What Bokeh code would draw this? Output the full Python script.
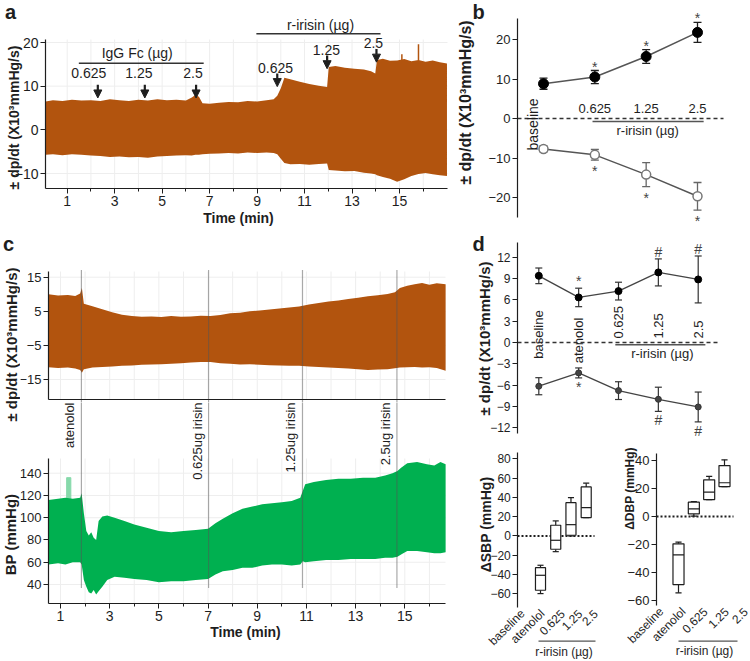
import math
from bokeh.plotting import figure
from bokeh.models import Range1d, FixedTicker, ColumnDataSource, Arrow, NormalHead
from bokeh.layouts import row, column
from bokeh.embed import file_html
from bokeh.resources import INLINE
from bokeh.core.properties import value

FONT = "Liberation Sans"
BROWN = "#B2540E"
GREEN = "#00B050"
PALE_GREEN = "#86D9AA"
INK = "#1e1e1e"
GRAY = "#555555"
GRIDC = "#eeeeee"

# ---------------- data: panel a (envelope of +/- dp/dt, x10^3 mmHg/s) ----------------
a_time = [0.09, 0.4, 0.8, 1.2, 1.6, 2.0, 2.4, 2.8, 3.2, 3.6, 4.0, 4.4, 4.8, 5.2, 5.6, 6.0, 6.25, 6.4, 6.55, 6.7,
          7.0, 7.4, 7.8, 8.2, 8.6, 9.0, 9.4, 9.7, 9.85, 10.0, 10.15, 10.4, 10.8, 11.2, 11.6, 11.95, 12.02, 12.3,
          12.7, 13.1, 13.5, 13.8, 13.98, 14.05, 14.3, 14.6, 14.9, 15.2, 15.5, 15.8, 16.1, 16.4, 16.7, 17.0]
a_upper = [6.5, 6.8, 6.6, 6.9, 6.7, 6.8, 6.6, 7.0, 6.8, 6.6, 6.9, 6.7, 7.0, 6.8, 6.9, 6.7, 7.4, 8.0, 7.6, 6.1,
           6.0, 6.2, 6.4, 6.3, 6.6, 6.5, 6.8, 7.0, 7.8, 9.5, 11.9, 11.6, 11.0, 10.5, 10.1, 9.8, 14.4, 14.6,
           14.2, 14.0, 13.8, 13.4, 12.9, 16.0, 16.3, 15.8, 15.9, 16.2, 15.7, 16.0, 15.6, 15.9, 15.5, 15.2]
a_lower = [-5.7, -5.6, -5.8, -5.6, -5.7, -5.9, -6.0, -6.2, -6.1, -6.3, -6.2, -6.4, -6.1, -6.0, -5.9, -5.8, -5.9,
           -5.7, -5.7, -5.6, -5.5, -5.4, -5.3, -5.4, -5.2, -5.3, -5.2, -5.3, -5.6, -6.6, -7.6, -7.9, -7.8, -8.0,
           -7.8, -7.7, -9.2, -9.3, -9.5, -9.4, -9.8, -10.0, -10.2, -10.4, -10.8, -11.2, -11.9, -11.3, -10.6,
           -10.1, -9.9, -10.2, -10.4, -10.6]
a_spike_time = [15.1, 15.8]
a_spike_base = [15.9, 15.9]
a_spike_top = [17.3, 19.6]
a_dose_labels = ["0.625", "1.25", "2.5"]
a_igg_time = [2.29, 4.27, 6.43]
a_igg_tip = [7.3, 7.3, 7.3]
a_igg_label_x = [1.91, 4.02, 6.30]
a_igg_label_y = [13.1, 13.1, 13.1]
a_irisin_time = [9.85, 11.95, 14.03]
a_irisin_tip = [9.9, 14.0, 15.5]
a_irisin_label_x = [9.78, 11.92, 13.90]
a_irisin_label_y = [14.15, 18.2, 19.8]
a_yticks = [-10, 0, 10, 20]
a_ticks = [1, 3, 5, 7, 9, 11, 13, 15]
a_minor = [2, 4, 6, 8, 10, 12, 14, 16]
grid_minutes = list(range(1, 17))

# ---------------- data: panel b ----------------
b_x = [0, 1, 2, 3]
b_dose_labels = ["0.625", "1.25", "2.5"]
b_up_mean = [8.8, 10.5, 15.7, 21.8]
b_up_sem = [1.4, 1.65, 1.75, 2.55]
b_lo_mean = [-7.7, -9.2, -14.2, -19.7]
b_lo_sem = [0.75, 1.35, 3.05, 3.5]
b_up_sig = ["", "*", "*", "*"]
b_lo_sig = ["", "*", "*", "*"]
b_yticks = [-20, -10, 0, 10, 20]

# ---------------- data: panel c ----------------
c_time = [0.51, 0.9, 1.3, 1.6, 1.8, 1.87, 1.95, 2.3, 2.7, 3.1, 3.5, 3.9, 4.3, 4.7, 5.1, 5.5, 5.9, 6.3, 6.7, 7.1,
          7.5, 7.9, 8.3, 8.7, 9.1, 9.5, 9.9, 10.3, 10.7, 11.1, 11.5, 11.9, 12.3, 12.7, 13.1, 13.5, 13.9, 14.3,
          14.6, 14.8, 15.1, 15.4, 15.7, 16.0, 16.3, 16.66]
c_upper = [10.0, 9.6, 9.8, 9.5, 10.2, 11.8, 7.2, 6.5, 5.6, 4.7, 4.0, 3.6, 3.4, 3.5, 3.3, 3.6, 3.4, 3.5, 3.7, 3.6,
           3.9, 4.4, 4.6, 5.0, 5.2, 5.5, 5.8, 6.1, 6.4, 7.0, 7.4, 7.9, 8.2, 8.6, 9.0, 9.4, 9.7, 10.1, 10.6, 11.8,
           12.5, 12.9, 13.3, 12.8, 13.2, 12.9]
c_lower = [-11.4, -11.6, -11.5, -11.8, -12.2, -13.0, -12.0, -11.5, -11.3, -11.2, -11.0, -10.9, -10.7, -10.6,
           -10.5, -10.4, -10.2, -10.0, -9.9, -9.9, -10.2, -10.4, -10.6, -10.5, -10.7, -10.8, -10.9, -11.0, -11.0,
           -11.2, -11.3, -11.5, -11.6, -11.8, -12.0, -12.2, -12.1, -12.0, -11.7, -11.5, -11.4, -11.3, -11.5,
           -11.4, -11.6, -12.4]
bp_time = [0.51, 0.9, 1.2, 1.5, 1.8, 1.86, 1.95, 2.05, 2.15, 2.25, 2.35, 2.45, 2.55, 2.7, 2.9, 3.2, 3.6, 4.0,
           4.5, 5.0, 5.5, 6.0, 6.5, 7.0, 7.3, 7.6, 8.0, 8.4, 8.8, 9.2, 9.6, 10.0, 10.4, 10.75, 10.85, 10.95, 11.3,
           11.8, 12.3, 12.8, 13.3, 13.8, 14.2, 14.5, 14.7, 14.85, 15.1, 15.5, 15.9, 16.2, 16.45, 16.66]
bp_upper = [116, 117, 118, 117, 118, 122, 104, 88, 84, 87, 82, 80, 97, 101, 102, 100, 97, 94, 91, 88, 87, 88, 89,
            90, 95, 99, 104, 108, 110, 112, 113, 114, 115, 118, 124, 130, 132, 134, 135, 135, 136, 136, 138, 140,
            142, 145, 149, 150, 148, 147, 150, 148]
bp_lower = [58, 59, 58, 60, 60, 58, 44, 38, 33, 32, 35, 31, 34, 38, 44, 47, 46, 45, 44, 42, 43, 43, 44, 45, 49,
            52, 53, 55, 55, 57, 58, 58, 57, 58, 61, 60, 61, 62, 62, 63, 63, 63, 64, 64, 65, 67, 70, 70, 69, 68, 68, 69]
bp_artifact_t0 = [1.25]
bp_artifact_t1 = [1.42]
bp_artifact_lo = [117]
bp_artifact_hi = [136]
c_event_time = [1.85, 7.02, 10.84, 14.68]
c_event_label = ["atenolol", "0.625ug irisin", "1.25ug irisin", "2.5ug irisin"]
c_yticks = [-15, -5, 5, 15]
bp_yticks = [40, 60, 80, 100, 120, 140]

# ---------------- data: panel d ----------------
d_x = [0, 1, 2, 3, 4]
d_cat_labels = ["baseline", "atenolol", "0.625", "1.25", "2.5"]
d_up_mean = [9.38, 6.34, 7.23, 9.86, 8.87]
d_up_sem = [1.1, 1.3, 1.25, 1.9, 3.3]
d_lo_mean = [-6.15, -4.28, -6.77, -7.99, -9.07]
d_lo_sem = [1.2, 0.7, 1.25, 1.7, 2.1]
d_up_sig = ["", "*", "", "#", "#"]
d_lo_sig = ["", "*", "", "#", "#"]
d_yticks = [-12, -9, -6, -3, 0, 3, 6, 9, 12]

box_x = [1, 2, 3, 4]
sbp_wlo = [-59.8, -16.3, 0.0, 19.0]
sbp_q1 = [-56.3, -13.8, 0.7, 19.0]
sbp_med = [-40.8, -4.5, 11.7, 29.4]
sbp_q3 = [-32.9, 11.1, 34.5, 50.8]
sbp_whi = [-30.4, 15.6, 39.7, 54.7]
dbp_wlo = [-54.5, 0.2, 12.1, 21.4]
dbp_q1 = [-48.6, 1.9, 12.1, 21.4]
dbp_med = [-27.4, 5.5, 17.4, 24.1]
dbp_q3 = [-19.5, 10.2, 26.2, 36.4]
dbp_whi = [-18.3, 10.7, 28.6, 40.5]
sbp_label_x = [-0.18, 1.13, 2.45, 3.6, 4.62]
dbp_label_x = [-0.11, 1.33, 2.75, 4.13, 5.37]
sbp_yticks = [-60, -40, -20, 0, 20, 40, 60, 80]
dbp_yticks = [-60, -40, -20, 0, 20, 40]

DPDT = "\u00b1 dp/dt (X10\u00b3mmHg/s)"
IRISIN = "r-irisin (\u00b5g)"


# ---------------- helpers ----------------
def lin(v1, p1, v2, p2):
    k = (v2 - v1) / (p2 - p1)
    return lambda p: v1 + (p - p1) * k


def make_fig(x0, x1, y0, y1, fx, fy, xaxis=True, yaxis=True):
    """Figure whose frame fills its whole box (x0..x1, y0..y1 in page pixels)."""
    kw = {}
    if not xaxis:
        kw["x_axis_type"] = None
    if not yaxis:
        kw["y_axis_type"] = None
    p = figure(width=x1 - x0, height=y1 - y0,
               x_range=Range1d(fx(x0), fx(x1)), y_range=Range1d(fy(y1), fy(y0)),
               toolbar_location=None, output_backend="svg",
               min_border_left=0, min_border_right=0, min_border_top=0, min_border_bottom=0, **kw)
    p.outline_line_color = None
    p.grid.grid_line_color = None
    return p


def style_axis(ax, size):
    ax.axis_line_color = INK
    ax.axis_line_width = 1.2
    ax.major_tick_line_color = INK
    ax.minor_tick_line_color = INK
    ax.major_tick_in = 0
    ax.major_tick_out = 5
    ax.minor_tick_in = 0
    ax.minor_tick_out = 3
    ax.major_label_text_font = FONT
    ax.major_label_text_font_size = size
    ax.major_label_text_color = INK
    ax.major_label_standoff = 2


def set_yaxis(p, ticks, loc, bounds, size):
    ax = p.yaxis[0]
    ax.ticker = FixedTicker(ticks=ticks)
    ax.fixed_location = loc
    ax.bounds = bounds
    style_axis(ax, size)


def set_xaxis(p, ticks, minor, loc, bounds, size):
    ax = p.xaxis[0]
    ax.ticker = FixedTicker(ticks=ticks, minor_ticks=minor)
    ax.fixed_location = loc
    ax.bounds = bounds
    style_axis(ax, size)


def txt(p, x, y, t, size="13px", align="center", baseline="middle", angle=0.0, xo=0, yo=0,
        color=INK, bold=False):
    p.text(x=x, y=y, text=t, angle=angle, text_align=align, text_baseline=baseline,
           x_offset=xo, y_offset=yo, text_font=value(FONT), text_font_size=size,
           text_font_style="bold" if bold else "normal", text_color=color)


def err_bars(p, xs, mean, sem, color, cap=8, width=1.3):
    top = [m + e for m, e in zip(mean, sem)]
    bot = [m - e for m, e in zip(mean, sem)]
    p.segment(x0=xs, y0=bot, x1=xs, y1=top, line_color=color, line_width=width)
    p.scatter(x=xs + xs, y=top + bot, marker="dash", size=cap, line_color=color, line_width=width)
    return top, bot


def faint_grid(p, xs, ys, xlo, xhi, ylo, yhi):
    p.segment(x0=xs, y0=[ylo] * len(xs), x1=xs, y1=[yhi] * len(xs), line_color=GRIDC, line_width=1)
    p.segment(x0=[xlo] * len(ys), y0=ys, x1=[xhi] * len(ys), y1=ys, line_color=GRIDC, line_width=1)


ROT = math.pi / 2

# ================= panel a =================
ax_ = lin(1, 66.7, 15, 399.0)
ay_ = lin(20, 42.0, -10, 173.0)
fa = make_fig(0, 455, 0, 230, ax_, ay_)
faint_grid(fa, grid_minutes, a_yticks, ax_(45), ax_(447), ay_(188), ay_(39))
fa.varea(x=a_time, y1=a_lower, y2=a_upper, fill_color=BROWN)
fa.segment(x0=a_spike_time, y0=a_spike_base, x1=a_spike_time, y1=a_spike_top, line_color=BROWN, line_width=1.5)
set_xaxis(fa, a_ticks, a_minor, ay_(188), (ax_(45), ax_(447)), "14px")
set_yaxis(fa, a_yticks, ax_(45), (ay_(188), ay_(39)), "14px")
ARROW_LEN = 3.0
for times, tips in ((a_igg_time, a_igg_tip), (a_irisin_time, a_irisin_tip)):
    src = ColumnDataSource(dict(x=times, y0=[t + ARROW_LEN for t in tips], y1=tips))
    fa.add_layout(Arrow(end=NormalHead(size=8, fill_color=INK, line_color=INK),
                        x_start="x", y_start="y0", x_end="x", y_end="y1",
                        source=src, line_width=2.2, line_color=INK))
txt(fa, a_igg_label_x, a_igg_label_y, a_dose_labels, "14px")
txt(fa, a_irisin_label_x, a_irisin_label_y, a_dose_labels, "14px")
fa.segment(x0=[1.49, 8.97], y0=[15.25, 22.0], x1=[6.75, 14.2], y1=[15.25, 22.0], line_color="#333333", line_width=1.3)
txt(fa, [3.95], [17.6], ["IgG Fc (\u00b5g)"], "14px")
txt(fa, [11.67], [23.9], [IRISIN], "14px")
txt(fa, [ax_(238)], [ay_(217.5)], ["Time (min)"], "14px", bold=True)
txt(fa, [ax_(13)], [ay_(117)], [DPDT], "14px", angle=ROT, bold=True)
txt(fa, [ax_(10)], [ay_(0.5)], ["a"], "20px", baseline="top", bold=True)

# ================= panel b =================
bx_ = lin(0, 543.0, 3, 697.0)
by_ = lin(20, 39.0, -20, 197.0)
fb = make_fig(455, 750, 0, 230, bx_, by_, xaxis=False)
fb.segment(x0=[bx_(517)], y0=[0], x1=[bx_(723)], y1=[0], line_color="#333333", line_dash="4 3", line_width=1.3)
fb.line(x=b_x, y=b_up_mean, line_color=GRAY, line_width=1.5)
fb.line(x=b_x, y=b_lo_mean, line_color=GRAY, line_width=1.5)
bt, _ = err_bars(fb, b_x, b_up_mean, b_up_sem, INK)
_, bb = err_bars(fb, b_x, b_lo_mean, b_lo_sem, "#666666")
fb.scatter(x=b_x, y=b_up_mean, marker="circle", size=10, fill_color="black", line_color="black")
fb.scatter(x=b_x, y=b_lo_mean, marker="circle", size=9, fill_color="white", line_color="#777777", line_width=1.5)
txt(fb, b_x, bt, b_up_sig, "14px", baseline="bottom", yo=4, color="#444444")
txt(fb, b_x, bb, b_lo_sig, "14px", baseline="top", yo=3, color="#444444")
txt(fb, b_x[1:], [2.45] * 3, b_dose_labels, "13px")
txt(fb, [-0.21], [-1.5], ["baseline"], "14px", angle=ROT)
fb.segment(x0=[0.955], y0=[-0.76], x1=[3.12], y1=[-0.76], line_color=GRAY, line_width=1.5)
txt(fb, [2.03], [-3.04], [IRISIN], "13px")
set_yaxis(fb, b_yticks, bx_(517), (by_(217), by_(18)), "13px")
txt(fb, [bx_(465)], [by_(102)], [DPDT], "16px", angle=ROT, bold=True)
txt(fb, [bx_(478)], [by_(0.5)], ["b"], "20px", baseline="top", bold=True)

# ================= panel c: label strip =================
px_ = lin(0, 0.0, 1, 1.0)
py_ = lin(0, 0.0, -1, 1.0)
fcl = make_fig(0, 20, 230, 661, px_, py_, xaxis=False, yaxis=False)
txt(fcl, [px_(11)], [py_(344)], [DPDT], "15px", angle=ROT, bold=True)
txt(fcl, [px_(10)], [py_(534)], ["BP (mmHg)"], "15px", angle=ROT, bold=True)
txt(fcl, [px_(8)], [py_(243)], ["c"], "20px", bold=True)

# ================= panel c (top: dp/dt) =================
cx_ = lin(1, 60.0, 15, 404.3)
cy_ = lin(15, 276.7, -15, 379.0)
fc = make_fig(20, 455, 230, 402, cx_, cy_)
faint_grid(fc, grid_minutes, c_yticks, cx_(48), cx_(445), cy_(399), cy_(271))
fc.varea(x=c_time, y1=c_lower, y2=c_upper, fill_color=BROWN)
n_ev = len(c_event_time)
fc.segment(x0=c_event_time, y0=[cy_(270)] * n_ev, x1=c_event_time, y1=[cy_(402)] * n_ev,
           line_color="#555555", line_width=1.2, line_dash="1 1")
set_xaxis(fc, [], [], cy_(399), (cx_(48), cx_(445)), "13px")
set_yaxis(fc, c_yticks, cx_(48), (cy_(399), cy_(271)), "13px")

# ================= panel c (bottom: BP) =================
bpy_ = lin(140, 472.7, 40, 584.0)
fbp = make_fig(20, 455, 402, 661, cx_, bpy_)
faint_grid(fbp, grid_minutes, bp_yticks, cx_(48), cx_(445), bpy_(603.3), bpy_(458))
fbp.quad(left=bp_artifact_t0, right=bp_artifact_t1, bottom=bp_artifact_lo, top=bp_artifact_hi,
         fill_color=PALE_GREEN, line_color=PALE_GREEN)
fbp.varea(x=bp_time, y1=bp_lower, y2=bp_upper, fill_color=GREEN)
fbp.segment(x0=c_event_time, y0=[bpy_(402)] * n_ev, x1=c_event_time, y1=[bpy_(587)] * n_ev,
            line_color="#555555", line_width=1.2, line_dash="1 1")
txt(fbp, c_event_time, [bpy_(402)] * n_ev, c_event_label, "13px", align="right", baseline="bottom",
    angle=ROT, xo=-4)
set_xaxis(fbp, a_ticks, a_minor, bpy_(603.3), (cx_(48), cx_(445)), "14px")
set_yaxis(fbp, bp_yticks, cx_(48), (bpy_(603.3), bpy_(458)), "13px")
txt(fbp, [cx_(245)], [bpy_(631.7)], ["Time (min)"], "14px", bold=True)

# ================= panel d (top) =================
dx_ = lin(0, 538.3, 4, 697.7)
dy_ = lin(12, 256.7, -12, 427.3)
fd = make_fig(455, 750, 230, 440, dx_, dy_, xaxis=False)
fd.segment(x0=[dx_(517)], y0=[0], x1=[dx_(717)], y1=[0], line_color="#333333", line_dash="4 3", line_width=1.3)
fd.line(x=d_x, y=d_up_mean, line_color="#444444", line_width=1.3)
fd.line(x=d_x, y=d_lo_mean, line_color="#444444", line_width=1.3)
dt, _ = err_bars(fd, d_x, d_up_mean, d_up_sem, "#333333", cap=7, width=1.2)
_, db = err_bars(fd, d_x, d_lo_mean, d_lo_sem, "#333333", cap=7, width=1.2)
fd.scatter(x=d_x, y=d_up_mean, marker="circle", size=7, fill_color="black", line_color="black")
fd.scatter(x=d_x, y=d_lo_mean, marker="circle", size=6, fill_color="#444444", line_color="#333333")
txt(fd, d_x, dt, d_up_sig, "14px", baseline="bottom", yo=1, color="#444444")
txt(fd, d_x, db, d_lo_sig, "14px", baseline="top", yo=1, color="#444444")
txt(fd, [0, 1], [dy_(334), dy_(340)], d_cat_labels[:2], "13px", angle=ROT)
txt(fd, d_x[2:], [0, 0, 0], d_cat_labels[2:], "13px", align="left", angle=ROT, yo=-4)
fd.segment(x0=[1.92], y0=[dy_(344.3)], x1=[4.18], y1=[dy_(344.3)], line_color=GRAY, line_width=1.5)
txt(fd, [3.1], [dy_(353)], [IRISIN], "13px")
set_yaxis(fd, d_yticks, dx_(517), (dy_(433), dy_(241.7)), "12px")
txt(fd, [dx_(484)], [dy_(338)], [DPDT], "15px", angle=ROT, bold=True)
txt(fd, [dx_(478)], [dy_(243)], ["d"], "20px", bold=True)


# ================= panel d (bottom boxes) =================
def boxes(p, xs, wlo, q1, med, q3, whi, w, cap):
    left = [x - w / 2 for x in xs]
    right = [x + w / 2 for x in xs]
    p.segment(x0=xs, y0=q3, x1=xs, y1=whi, line_color=INK, line_width=1.2)
    p.segment(x0=xs, y0=q1, x1=xs, y1=wlo, line_color=INK, line_width=1.2)
    p.segment(x0=[x - cap / 2 for x in xs], y0=whi, x1=[x + cap / 2 for x in xs], y1=whi, line_color=INK, line_width=1.2)
    p.segment(x0=[x - cap / 2 for x in xs], y0=wlo, x1=[x + cap / 2 for x in xs], y1=wlo, line_color=INK, line_width=1.2)
    p.quad(left=left, right=right, bottom=q1, top=q3, fill_color="white", line_color=INK, line_width=1.2)
    p.segment(x0=left, y0=med, x1=right, y1=med, line_color=INK, line_width=1.2)


sx_ = lin(1, 540.0, 4, 585.7)
sy_ = lin(80, 458.3, -60, 593.3)
fs = make_fig(455, 600, 440, 661, sx_, sy_, xaxis=False)
fs.segment(x0=[sx_(517)], y0=[0], x1=[sx_(594)], y1=[0], line_color=INK, line_width=2, line_dash="2 2")
boxes(fs, box_x, sbp_wlo, sbp_q1, sbp_med, sbp_q3, sbp_whi, 0.66, 0.4)
txt(fs, sbp_label_x, [sy_(611)] * 5, d_cat_labels, "12px", align="right", angle=math.pi / 4)
fs.segment(x0=[sx_(538)], y0=[sy_(640.7)], x1=[sx_(595)], y1=[sy_(640.7)], line_color=GRAY, line_width=1.3)
txt(fs, [sx_(563.5)], [sy_(651)], [IRISIN], "12px")
set_yaxis(fs, sbp_yticks, sx_(517.3), (sy_(606.7), sy_(451.7)), "12px")
txt(fs, [sx_(485)], [sy_(524)], ["\u0394SBP (mmHg)"], "14px", angle=ROT, bold=True)

ddx_ = lin(1, 678.0, 4, 724.0)
ddy_ = lin(40, 460.0, -60, 600.0)
fdb = make_fig(600, 750, 440, 661, ddx_, ddy_, xaxis=False)
fdb.segment(x0=[ddx_(656)], y0=[0], x1=[ddx_(733)], y1=[0], line_color=INK, line_width=2, line_dash="2 2")
boxes(fdb, box_x, dbp_wlo, dbp_q1, dbp_med, dbp_q3, dbp_whi, 0.72, 0.4)
txt(fdb, dbp_label_x, [ddy_(609)] * 5, d_cat_labels, "12px", align="right", angle=math.pi / 4)
fdb.segment(x0=[ddx_(678)], y0=[ddy_(640.7)], x1=[ddx_(737)], y1=[ddy_(640.7)], line_color=GRAY, line_width=1.3)
txt(fdb, [ddx_(704)], [ddy_(650.7)], [IRISIN], "12px")
set_yaxis(fdb, dbp_yticks, ddx_(656), (ddy_(605), ddy_(452.7)), "13px")
txt(fdb, [ddx_(629)], [ddy_(488)], ["\u0394DBP (mmHg)"], "12px", angle=ROT, bold=True)

layout = column(
    row(fa, fb),
    row(fcl, column(fc, fbp), column(fd, row(fs, fdb))),
)

open("out.html", "w").write(file_html(layout, INLINE))
